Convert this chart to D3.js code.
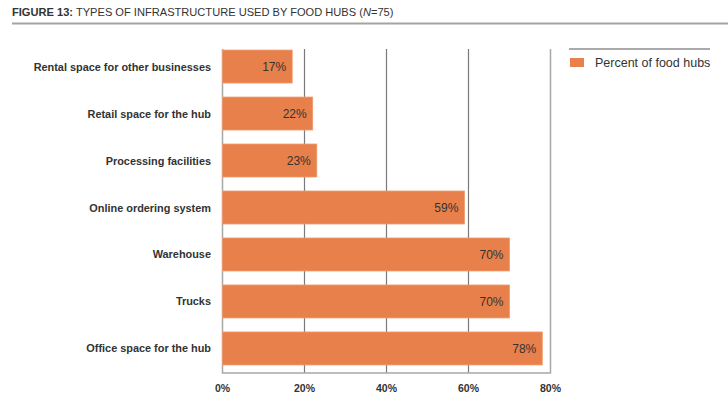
<!DOCTYPE html>
<html>
<head>
<meta charset="utf-8">
<script src="https://cdn.jsdelivr.net/npm/d3@7"></script>
<style>
  body { margin: 0; background: #fff; }
  text { font-family: "Liberation Sans", Arial, Helvetica, sans-serif; }
</style>
</head>
<body>
<div id="chart"></div>
<script>
const categories = [
  "Rental space for other businesses",
  "Retail space for the hub",
  "Processing facilities",
  "Online ordering system",
  "Warehouse",
  "Trucks",
  "Office space for the hub"
];
const values = [17, 22, 23, 59, 70, 70, 78];
const ticks = [0, 20, 40, 60, 80];
const seriesName = "Percent of food hubs";

const width = 728;
const height = 406;
const barColor = "#e8804b";

const svg = d3.select("#chart").append("svg").attr("width", width).attr("height", height);

// title
const title = svg.append("text").attr("x", 12).attr("y", 16).attr("font-size", 11.1).attr("fill", "#333");
title.append("tspan").attr("font-weight", "bold").text("FIGURE 13:");
title.append("tspan").text(" TYPES OF INFRASTRUCTURE USED BY FOOD HUBS (");
title.append("tspan").attr("font-style", "italic").text("N");
title.append("tspan").text("=75)");
svg.append("line").attr("x1", 12).attr("x2", width).attr("y1", 23.5).attr("y2", 23.5)
  .attr("stroke", "#a3a3a3").attr("stroke-width", 2);

// scales
const x = d3.scaleLinear().domain([0, 80]).range([222.5, 550.5]);
const y = d3.scaleBand().domain(categories).range([43, 372]).paddingInner(0.298).paddingOuter(0.15);
const plotTop = 49;
const plotBottom = 373;

// grid
svg.append("g").selectAll("line").data(ticks.slice(1, -1)).enter().append("line")
  .attr("x1", (d) => x(d)).attr("x2", (d) => x(d))
  .attr("y1", plotTop).attr("y2", plotBottom)
  .attr("stroke", "#7a7a7a").attr("stroke-width", 1.2);

// frame: left, right, bottom
svg.append("path")
  .attr("d", `M${x(0)},${plotTop}V${plotBottom}H${x(80)}V${plotTop}`)
  .attr("fill", "none").attr("stroke", "#a8a8a8").attr("stroke-width", 1.5);

// bars
svg.append("g").selectAll("rect").data(values).enter().append("rect")
  .attr("x", x(0))
  .attr("y", (d, i) => y(categories[i]))
  .attr("width", (d) => x(d) - x(0))
  .attr("height", y.bandwidth())
  .attr("fill", barColor)
  .attr("stroke", "#f09a6c").attr("stroke-width", 0.8);

// value labels
svg.append("g").selectAll("text").data(values).enter().append("text")
  .attr("x", (d) => x(d) - 6)
  .attr("y", (d, i) => y(categories[i]) + y.bandwidth() / 2 + 4.5)
  .attr("text-anchor", "end").attr("font-size", 12).attr("fill", "#333")
  .text((d) => d + "%");

// category labels
svg.append("g").selectAll("text").data(categories).enter().append("text")
  .attr("x", 211)
  .attr("y", (d) => y(d) + y.bandwidth() / 2 + 4)
  .attr("text-anchor", "end").attr("font-size", 10.9).attr("font-weight", "bold").attr("fill", "#333")
  .text((d) => d);

// tick labels
svg.append("g").selectAll("text").data(ticks).enter().append("text")
  .attr("x", (d) => x(d))
  .attr("y", 392)
  .attr("text-anchor", "middle").attr("font-size", 10.5).attr("font-weight", "bold").attr("fill", "#333")
  .text((d) => d + "%");

// legend
svg.append("line").attr("x1", 569).attr("x2", 710).attr("y1", 49).attr("y2", 49)
  .attr("stroke", "#555").attr("stroke-width", 1);
svg.append("rect").attr("x", 570).attr("y", 58).attr("width", 14).attr("height", 9).attr("fill", barColor);
svg.append("text").attr("x", 595).attr("y", 67).attr("font-size", 12.5).attr("fill", "#333").text(seriesName);
</script>
</body>
</html>
